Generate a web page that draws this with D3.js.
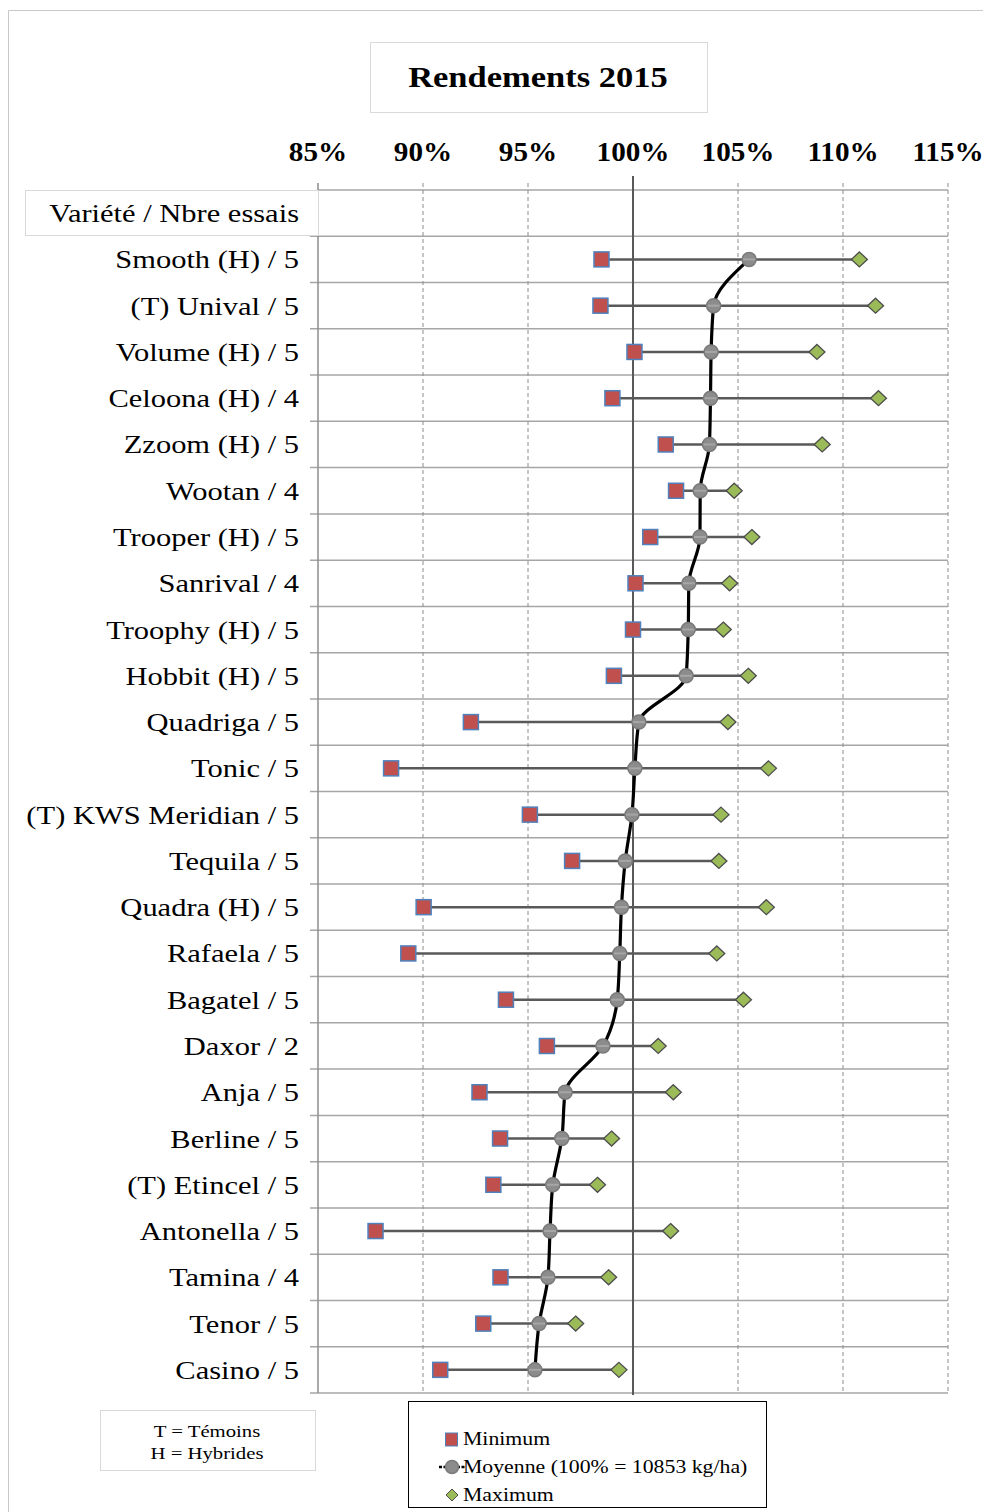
<!DOCTYPE html>
<html lang="fr">
<head>
    <meta charset="UTF-8">
    <title>Rendements 2015</title>
    <script src="https://d3js.org/d3.v7.min.js"></script>
    <style>
        * { padding: 0; margin: 0; }
        body { background: #fff; }
        svg { display: block; font-family: "Liberation Serif", "Times New Roman", serif; }
    </style>
</head>
<body>
    <div class="context"></div>
    <script>
        // données
        const varietes = ["Smooth (H) / 5", "(T) Unival / 5", "Volume (H) / 5", "Celoona (H) / 4", "Zzoom (H) / 5",
            "Wootan / 4", "Trooper (H) / 5", "Sanrival / 4", "Troophy (H) / 5", "Hobbit (H) / 5", "Quadriga / 5",
            "Tonic / 5", "(T) KWS Meridian / 5", "Tequila / 5", "Quadra (H) / 5", "Rafaela / 5", "Bagatel / 5",
            "Daxor / 2", "Anja / 5", "Berline / 5", "(T) Etincel / 5", "Antonella / 5", "Tamina / 4",
            "Tenor / 5", "Casino / 5"];
        const minimum = [98.50, 98.45, 100.07, 99.02, 101.56, 102.05, 100.82, 100.12, 100.00, 99.09, 92.28,
            88.48, 95.09, 97.10, 90.03, 89.30, 93.95, 95.90, 92.69, 93.67, 93.35, 87.74, 93.69, 92.87, 90.82];
        const moyenne = [105.53, 103.84, 103.72, 103.69, 103.64, 103.20, 103.19, 102.66, 102.63, 102.53, 100.28,
            100.09, 99.95, 99.63, 99.45, 99.37, 99.25, 98.57, 96.77, 96.61, 96.18, 96.05, 95.95, 95.53, 95.33];
        const maximum = [110.78, 111.55, 108.76, 111.69, 109.01, 104.82, 105.66, 104.60, 104.30, 105.49, 104.52,
            106.45, 104.19, 104.09, 106.35, 103.99, 105.26, 101.20, 101.92, 98.98, 98.31, 101.79, 98.84, 97.27, 99.33];
        const ticks = [85, 90, 95, 100, 105, 110, 115];
        const entete = "Variété / Nbre essais";

        const W = 983, H = 1512;
        const svg = d3.select(".context").append("svg")
            .attr("width", W).attr("height", H);

        const rows = varietes.map((v, i) => ({ nom: v, min: minimum[i], moy: moyenne[i], max: maximum[i] }));

        const x = d3.scaleLinear().domain([85, 115]).range([318, 948]);
        const y = d3.scaleBand().domain([entete].concat(varietes)).range([190, 1393]).paddingInner(0);
        const cy = d => y(d) + y.bandwidth() / 2;

        // le texte du modèle est un peu étiré en largeur
        function label(parent, tx, ty, txt, size, anchor, sx, bold) {
            const t = parent.append("text")
                .attr("transform", "translate(" + tx + "," + ty + ") scale(" + sx + ",1)")
                .attr("text-anchor", anchor).attr("font-size", size).attr("fill", "#000").text(txt);
            if (bold) t.attr("font-weight", "bold");
            return t;
        }

        // cadre extérieur
        svg.append("path")
            .attr("d", "M8.5," + H + "V10.5H" + W)
            .attr("fill", "none").attr("stroke", "#c8c8c8").attr("stroke-width", 1);

        // titre
        svg.append("rect").attr("x", 370.5).attr("y", 42.5).attr("width", 337).attr("height", 70)
            .attr("fill", "#fff").attr("stroke", "#d9d9d9");
        label(svg, 538, 87, "Rendements 2015", 29.5, "middle", 1.17, true);

        // axe du haut
        const gAxis = svg.append("g");
        gAxis.selectAll("text").data(ticks).enter().append("text")
            .attr("transform", d => "translate(" + x(d) + ",161) scale(1.1,1)")
            .attr("text-anchor", "middle").attr("font-size", 26.5).attr("font-weight", "bold")
            .text(d => d + "%");

        // lignes horizontales
        const bounds = y.domain().map(d => y(d)).concat([y.range()[1]]);
        svg.append("g").selectAll("line").data(bounds).enter().append("line")
            .attr("x1", (d, i) => i === 0 ? 318 : 310).attr("x2", 948)
            .attr("y1", d => d).attr("y2", d => d)
            .attr("stroke", "#a6a6a6").attr("stroke-width", 1.5);

        // grille verticale
        svg.append("g").selectAll("line").data(ticks.filter(t => t !== 85 && t !== 100)).enter().append("line")
            .attr("x1", d => x(d)).attr("x2", d => x(d)).attr("y1", 183).attr("y2", 1393)
            .attr("stroke", "#8c8c8c").attr("stroke-width", 1).attr("stroke-dasharray", "4,3");
        svg.append("line").attr("x1", x(85)).attr("x2", x(85)).attr("y1", 183).attr("y2", 1393)
            .attr("stroke", "#8c8c8c").attr("stroke-width", 1.5);
        svg.append("line").attr("x1", x(100)).attr("x2", x(100)).attr("y1", 176).attr("y2", 1395)
            .attr("stroke", "#595959").attr("stroke-width", 2);

        // en-tête
        svg.append("rect").attr("x", 25.5).attr("y", 190.5).attr("width", 293).attr("height", 45)
            .attr("fill", "#fff").attr("stroke", "#d9d9d9");
        label(svg, 299, cy(entete) + 9, entete, 25, "end", 1.22, false);

        // étiquettes
        const gLab = svg.append("g");
        rows.forEach(d => label(gLab, 299, cy(d.nom) + 9, d.nom, 25, "end", 1.22, false));

        // barres min-max
        svg.append("g").selectAll("line").data(rows).enter().append("line")
            .attr("x1", d => x(d.min)).attr("x2", d => x(d.max))
            .attr("y1", d => cy(d.nom)).attr("y2", d => cy(d.nom))
            .attr("stroke", "#595959").attr("stroke-width", 2.5);

        // courbe des moyennes
        const line = d3.line().x(d => x(d.moy)).y(d => cy(d.nom)).curve(d3.curveMonotoneY);
        svg.append("path").datum(rows).attr("d", line)
            .attr("fill", "none").attr("stroke", "#000").attr("stroke-width", 3.2);

        // moyennes
        const gMoy = svg.append("g").selectAll("g").data(rows).enter().append("g")
            .attr("transform", d => "translate(" + x(d.moy) + "," + cy(d.nom) + ")");
        gMoy.append("circle").attr("r", 7).attr("fill", "#8c8c8c").attr("stroke", "#7a7a7a").attr("stroke-width", 1.5);
        gMoy.append("line").attr("x1", -6).attr("x2", 6).attr("stroke", "#a6a6a6").attr("stroke-width", 2);

        // minimums
        svg.append("g").selectAll("rect").data(rows).enter().append("rect")
            .attr("x", d => x(d.min) - 7.5).attr("y", d => cy(d.nom) - 7.5)
            .attr("width", 15).attr("height", 15)
            .attr("fill", "#c0504d").attr("stroke", "#4f81bd").attr("stroke-width", 1.5);

        // maximums
        const diamond = "M0,-7.5L8,0L0,7.5L-8,0Z";
        svg.append("g").selectAll("path").data(rows).enter().append("path")
            .attr("d", diamond)
            .attr("transform", d => "translate(" + x(d.max) + "," + cy(d.nom) + ")")
            .attr("fill", "#9bbb59").attr("stroke", "#4d4d4d").attr("stroke-width", 1.3);

        // note T / H
        svg.append("rect").attr("x", 100.5).attr("y", 1410.5).attr("width", 215).attr("height", 60)
            .attr("fill", "#fff").attr("stroke", "#d9d9d9");
        label(svg, 207, 1437, "T = Témoins", 17, "middle", 1.22, false);
        label(svg, 207, 1459, "H = Hybrides", 17, "middle", 1.22, false);

        // légende
        const leg = svg.append("g");
        leg.append("rect").attr("x", 408.5).attr("y", 1401.5).attr("width", 358).attr("height", 106)
            .attr("fill", "#fff").attr("stroke", "#000").attr("stroke-width", 1);
        const legItems = ["Minimum", "Moyenne (100% = 10853 kg/ha)", "Maximum"];
        const legY = [1439, 1467, 1495];
        leg.append("rect").attr("x", 445.5).attr("y", legY[0] - 6).attr("width", 12).attr("height", 13)
            .attr("fill", "#c0504d").attr("stroke", "#4f81bd").attr("stroke-width", 1);
        leg.append("line").attr("x1", 439).attr("x2", 465).attr("y1", legY[1]).attr("y2", legY[1])
            .attr("stroke", "#000").attr("stroke-width", 2.5).attr("stroke-dasharray", "3,1.5");
        leg.append("circle").attr("cx", 452).attr("cy", legY[1]).attr("r", 6.5)
            .attr("fill", "#8c8c8c").attr("stroke", "#7a7a7a").attr("stroke-width", 1.5);
        leg.append("path").attr("d", "M0,-6L6,0L0,6L-6,0Z")
            .attr("transform", "translate(452," + legY[2] + ")")
            .attr("fill", "#9bbb59").attr("stroke", "#4d4d4d").attr("stroke-width", 1);
        legItems.forEach((d, i) => label(leg, 463, legY[i] + 6, d, 18, "start", 1.21, false));
    </script>
</body>
</html>
